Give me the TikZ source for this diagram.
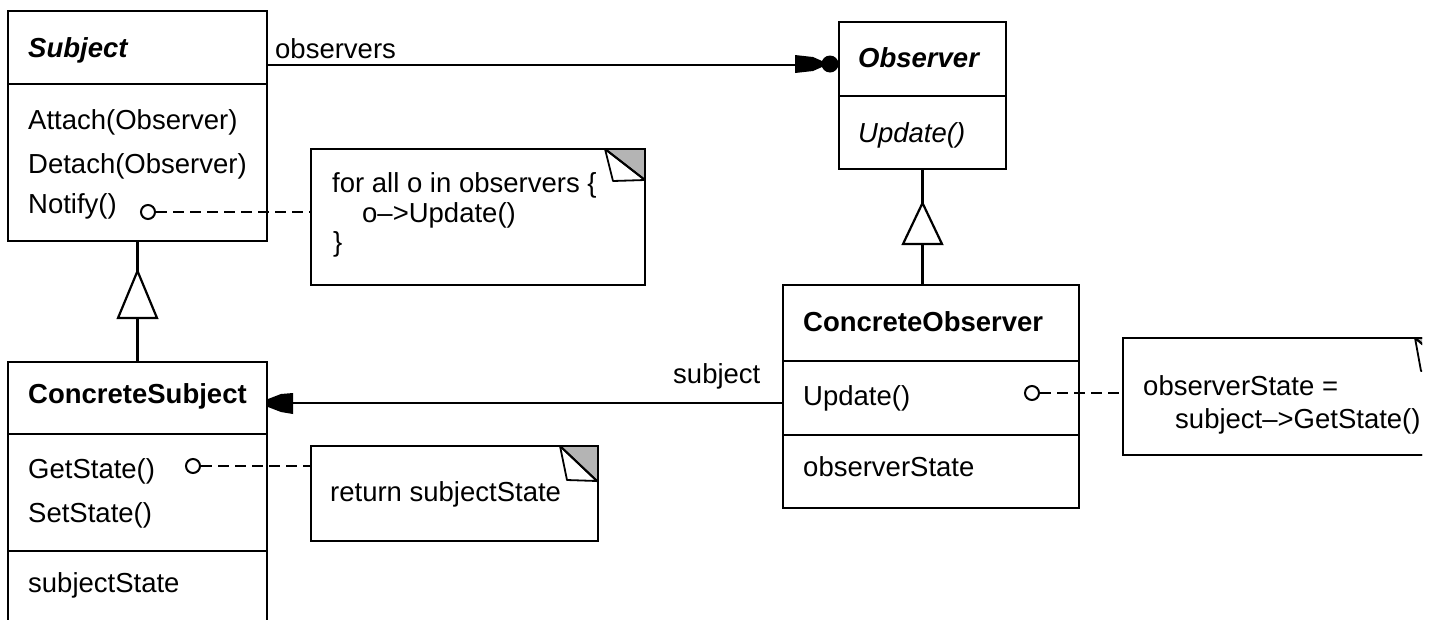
\documentclass[tikz,border=0pt]{standalone}
\usepackage{fontspec}
\setmainfont{Liberation Sans}
\usetikzlibrary{calc}
\definecolor{foldgray}{RGB}{180,180,180}
\begin{document}
\begin{tikzpicture}[x=1pt,y=-1pt,
  box/.style={draw, line width=2.6pt, anchor=north west, inner sep=0pt, outer sep=0pt},
  notebox/.style={draw, line width=2.4pt, anchor=north west, inner sep=0pt, outer sep=0pt, fill=white},
  sep/.style={line width=2.6pt},
  txt/.style={anchor=base west, inner sep=0pt, font=\fontsize{27.5}{30}\selectfont},
  assoc/.style={line width=2.2pt},
  genline/.style={line width=2.4pt},
  gentri/.style={line width=2.2pt, fill=white, line join=miter},
  dashline/.style={line width=2.2pt, dash pattern=on 11pt off 6pt},
  circ/.style={circle, draw, line width=2pt, minimum size=14pt, inner sep=0pt, fill=white},
  flap/.style={line width=1.8pt, fill=white, line join=round},
  diag/.style={line width=2pt}
]
\useasboundingbox (0,0) rectangle (1439,619);
\fill[white] (0,0) rectangle (1439,619);
\begin{scope}
\clip (0,0) rectangle (1439,619);

% ---- class boxes ----
\node[box, minimum width=259pt, minimum height=230pt] (subject) at (8,11) {};
\draw[sep] (subject.west |- 0,84) -- (subject.east |- 0,84);
\node[txt, font=\fontsize{27.5}{30}\selectfont\bfseries\itshape] (subjectname) at (28,57) {Subject};
\node[txt] (attach) at (28,129) {Attach(Observer)};
\node[txt] (detach) at (28,173) {Detach(Observer)};
\node[txt] (notify) at (28,213) {Notify()};

\node[box, minimum width=167pt, minimum height=147pt] (observer) at (839,22) {};
\draw[sep] (observer.west |- 0,96) -- (observer.east |- 0,96);
\node[txt, font=\fontsize{27.5}{30}\selectfont\bfseries\itshape] (observername) at (858,67) {Observer};
\node[txt, font=\fontsize{27.5}{30}\selectfont\itshape] (oupdate) at (858,142) {Update()};

\node[box, minimum width=259pt, minimum height=300pt] (csubject) at (8,362) {};
\draw[sep] (csubject.west |- 0,434) -- (csubject.east |- 0,434);
\draw[sep] (csubject.west |- 0,551) -- (csubject.east |- 0,551);
\node[txt, font=\fontsize{27.5}{30}\selectfont\bfseries] (csname) at (28,403) {ConcreteSubject};
\node[txt] (getstate) at (28,478) {GetState()};
\node[txt] (setstate) at (28,522) {SetState()};
\node[txt] (substate) at (28,592) {subjectState};

\node[box, minimum width=296pt, minimum height=223pt] (cobserver) at (783,285) {};
\draw[sep] (cobserver.west |- 0,361) -- (cobserver.east |- 0,361);
\draw[sep] (cobserver.west |- 0,435) -- (cobserver.east |- 0,435);
\node[txt, font=\fontsize{27.5}{30}\selectfont\bfseries] (coname) at (803,331) {ConcreteObserver};
\node[txt] (coupdate) at (803,405) {Update()};
\node[txt] (obsstate) at (803,476) {observerState};

% ---- generalizations ----
\coordinate (g1top) at (137.5,271);
\coordinate (g1base) at (137.5,318);
\draw[genline] (subject.south) -- (g1top);
\draw[genline] (g1base) -- (csubject.north);
\draw[gentri] (g1top) -- ++(19.5,47) -- ++(-39,0) -- cycle;

\coordinate (g2top) at (922.5,203);
\coordinate (g2base) at (922.5,244);
\draw[genline] (observer.south) -- (g2top);
\draw[genline] (g2base) -- (g2base |- cobserver.north);
\draw[gentri] (g2top) -- ++(19.5,41) -- ++(-39,0) -- cycle;

% ---- associations ----
\draw[assoc] (subject.east |- 0,65) -- (observer.west |- 0,65);
\node[txt] (obslabel) at (275,58) {observers};
\fill (795,55) -- (813,57) -- (822,61) -- (822,67) -- (813,71) -- (795,73) -- cycle;
\fill (830,64) circle (8.5);

\draw[assoc] (cobserver.west |- 0,403) -- (csubject.east |- 0,403);
\node[txt] (sublabel) at (673,383) {subject};
\fill (268,399) -- (281,394) -- (293,393) -- (293,414) -- (281,412) -- (268,407) -- cycle;

% ---- notes ----
\node[notebox, minimum width=334pt, minimum height=136pt] (note1) at (311,149) {};
\fill[foldgray] ($(note1.north east)+(-40,0)$) -- (note1.north east) -- ++(0,31) -- cycle;
\draw[flap] ($(note1.north east)+(-40,0)$) -- ++(8,32) -- ++(32,-1) -- cycle;
\draw[diag] ($(note1.north east)+(-40,0)$) -- ($(note1.north east)+(0,31)$);
\draw[line width=2.4pt] (note1.north west) rectangle (note1.south east);
\node[txt] (n1l1) at (332,192) {for all o in observers \{};
\node[txt] (n1l2) at (362,222) {o-->Update()};
\node[txt] (n1l3) at (333,251) {\}};
\node[circ] (c1) at (148,212) {};
\draw[dashline] (c1.east) -- (note1.west |- c1.east);

\node[notebox, minimum width=287pt, minimum height=95pt] (note2) at (311,446) {};
\fill[foldgray] ($(note2.north east)+(-38,0)$) -- (note2.north east) -- ++(0,36) -- cycle;
\draw[flap] ($(note2.north east)+(-38,0)$) -- ++(7,34) -- ++(30,1) -- cycle;
\draw[diag] ($(note2.north east)+(-38,0)$) -- ($(note2.north east)+(0,36)$);
\draw[line width=2.4pt] (note2.north west) rectangle (note2.south east);
\node[txt] (n2l1) at (330,501) {return subjectState};
\node[circ] (c2) at (193,466) {};
\draw[dashline] (c2.east) -- (note2.west |- c2.east);

\begin{scope}
\clip (1100,320) rectangle (1422,470);
\node[notebox, minimum width=331pt, minimum height=117pt] (note3) at (1123,338) {};
\fill[foldgray] ($(note3.north east)+(-39,0)$) -- (note3.north east) -- ++(0,31) -- cycle;
\draw[flap] ($(note3.north east)+(-39,0)$) -- ++(6,33) -- ++(31,-1) -- cycle;
\draw[diag] ($(note3.north east)+(-39,0)$) -- ($(note3.north east)+(0,31)$);
\draw[line width=2.4pt] (note3.north west) rectangle (note3.south east);
\node[txt] (n3l1) at (1143,395) {observerState =};
\node[txt] (n3l2) at (1175,428) {subject-->GetState()};
\end{scope}
\node[circ] (c3) at (1032,393) {};
\draw[dashline] (c3.east) -- (note3.west |- c3.east);

\end{scope}
\end{tikzpicture}
\end{document}
